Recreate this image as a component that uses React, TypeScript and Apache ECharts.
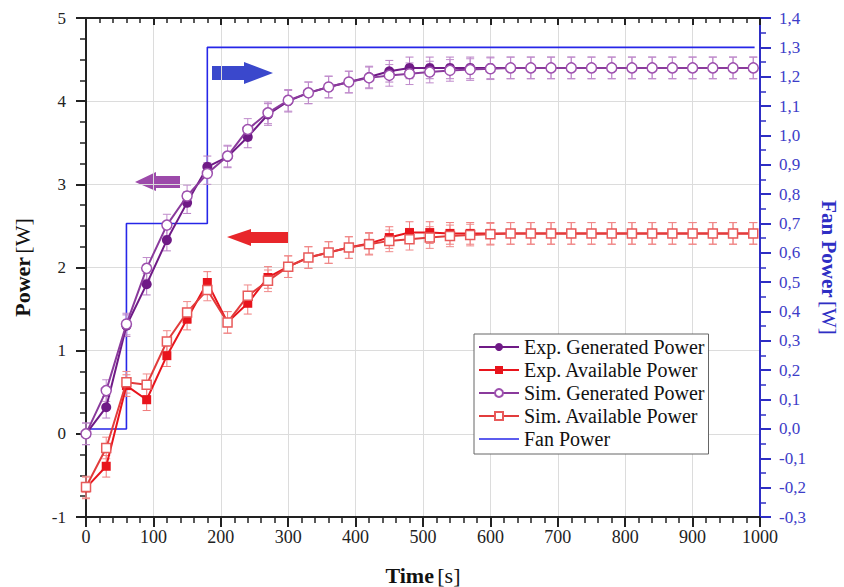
import React, { useEffect, useRef } from 'react';
import * as echarts from 'echarts';

const TIME = [0, 30, 60, 90, 120, 150, 180, 210, 240, 270, 300, 330, 360, 390, 420, 450, 480, 510, 540, 570, 600, 630, 660, 690, 720, 750, 780, 810, 840, 870, 900, 930, 960, 990];
const EXP_GEN = [0.0, 0.32, 1.30, 1.80, 2.33, 2.78, 3.21, 3.33, 3.57, 3.84, 4.00, 4.10, 4.17, 4.23, 4.29, 4.36, 4.40, 4.40, 4.40, 4.40, 4.40, 4.40, 4.40, 4.40, 4.40, 4.40, 4.40, 4.40, 4.40, 4.40, 4.40, 4.40, 4.40, 4.40];
const SIM_GEN = [0.0, 0.52, 1.32, 1.99, 2.51, 2.86, 3.13, 3.34, 3.66, 3.86, 4.01, 4.10, 4.17, 4.23, 4.28, 4.31, 4.33, 4.35, 4.37, 4.38, 4.39, 4.40, 4.40, 4.40, 4.40, 4.40, 4.40, 4.40, 4.40, 4.40, 4.40, 4.40, 4.40, 4.40];
const EXP_AVAIL = [-0.65, -0.39, 0.58, 0.41, 0.94, 1.38, 1.82, 1.34, 1.57, 1.88, 2.01, 2.12, 2.18, 2.24, 2.29, 2.36, 2.42, 2.42, 2.41, 2.41, 2.41, 2.41, 2.41, 2.41, 2.41, 2.41, 2.41, 2.41, 2.41, 2.41, 2.41, 2.41, 2.41, 2.41];
const SIM_AVAIL = [-0.64, -0.17, 0.62, 0.59, 1.11, 1.46, 1.73, 1.34, 1.66, 1.84, 2.01, 2.12, 2.18, 2.24, 2.28, 2.32, 2.34, 2.36, 2.38, 2.39, 2.40, 2.41, 2.41, 2.41, 2.41, 2.41, 2.41, 2.41, 2.41, 2.41, 2.41, 2.41, 2.41, 2.41];
const ERR = 0.13;
const FAN_TIME = [0, 60, 60, 180, 180, 992];
const FAN_POWER = [0, 0, 0.7, 0.7, 1.3, 1.3];
const LEGEND_NAMES = ['Exp. Generated Power', 'Exp. Available Power', 'Sim. Generated Power', 'Sim. Available Power', 'Fan Power'];

const SERIF = '"Liberation Serif", "Times New Roman", serif';
const BLUE_AXIS = '#2e2ec4';

const pairs = (xs: number[], ys: number[]) => xs.map((x, i) => [x, ys[i]]);
const errData = (vals: number[]) => TIME.map((t, i) => [t, vals[i] - ERR, vals[i] + ERR]);

const errSeries = (vals: number[], color: string, z: number) => ({
  type: 'custom',
  xAxisIndex: 0,
  yAxisIndex: 0,
  z,
  silent: true,
  encode: { x: 0, y: [1, 2] },
  data: errData(vals),
  renderItem: (_p: any, api: any) => {
    const a = api.coord([api.value(0), api.value(1)]);
    const b = api.coord([api.value(0), api.value(2)]);
    const w = 4;
    const st = { stroke: color, lineWidth: 1 };
    return {
      type: 'group',
      children: [
        { type: 'line', shape: { x1: a[0], y1: a[1], x2: b[0], y2: b[1] }, style: st },
        { type: 'line', shape: { x1: a[0] - w, y1: a[1], x2: a[0] + w, y2: a[1] }, style: st },
        { type: 'line', shape: { x1: b[0] - w, y1: b[1], x2: b[0] + w, y2: b[1] }, style: st },
      ],
    };
  },
});

export default function App() {
  const ref = useRef<HTMLDivElement>(null);
  useEffect(() => {
    const chart = echarts.init(ref.current!, null, { renderer: 'svg' });
    const xCommon = {
      type: 'value',
      min: 0,
      max: 1000,
      interval: 100,
    };
    chart.setOption({
      animation: false,
      backgroundColor: '#fff',
      grid: { left: 86, right: 84, top: 18, bottom: 70, containLabel: false, outerBoundsMode: 'none' },
      legend: {
        orient: 'vertical',
        left: 474,
        top: 334,
        itemWidth: 40,
        itemHeight: 10,
        itemGap: 3,
        padding: [3, 4, 5, 4],
        backgroundColor: '#fff',
        borderColor: '#666',
        borderWidth: 1,
        borderRadius: 0,
        textStyle: { fontFamily: SERIF, fontSize: 20, color: '#111' },
        data: LEGEND_NAMES.map((n) =>
          n === 'Fan Power' ? { name: n, icon: 'path://M0,0 L40,0 L40,1.6 L0,1.6 Z' } : { name: n }
        ),
      },
      xAxis: [
        {
          ...xCommon,
          position: 'bottom',
          name: '{b|Time} {r|[s]}',
          nameLocation: 'middle',
          nameGap: 47,
          nameTextStyle: {
            rich: {
              b: { fontFamily: SERIF, fontSize: 22, fontWeight: 'bold', color: '#111' },
              r: { fontFamily: SERIF, fontSize: 22, color: '#111' },
            },
          },
          axisLine: { show: true, onZero: false, lineStyle: { color: '#222', width: 2 } },
          axisTick: { show: true, inside: false, length: 10, lineStyle: { color: '#222', width: 2 } },
          minorTick: { show: true, splitNumber: 5, length: 6, lineStyle: { color: '#222', width: 1.5 } },
          axisLabel: { fontFamily: SERIF, fontSize: 18, color: '#222', margin: 11, formatter: (v: number) => String(v) },
          splitLine: { show: true, lineStyle: { color: '#dcdcdc', width: 1 } },
        },
        {
          ...xCommon,
          position: 'top',
          axisLine: { show: true, onZero: false, lineStyle: { color: '#222', width: 2 } },
          axisTick: { show: true, inside: true, length: 7, lineStyle: { color: '#222', width: 2 } },
          minorTick: { show: true, splitNumber: 5, length: 5, lineStyle: { color: '#222', width: 1.5 } },
          axisLabel: { show: false },
          splitLine: { show: false },
        },
      ],
      yAxis: [
        {
          type: 'value',
          min: -1,
          max: 5,
          interval: 1,
          position: 'left',
          name: '{b|Power} {r|[W]}',
          nameLocation: 'middle',
          nameGap: 53,
          nameTextStyle: {
            rich: {
              b: { fontFamily: SERIF, fontSize: 22, fontWeight: 'bold', color: '#111' },
              r: { fontFamily: SERIF, fontSize: 22, color: '#111' },
            },
          },
          axisLine: { show: true, onZero: false, lineStyle: { color: '#222', width: 2 } },
          axisTick: { show: true, inside: false, length: 10, lineStyle: { color: '#222', width: 2 } },
          minorTick: { show: true, splitNumber: 4, length: 6, lineStyle: { color: '#222', width: 1.5 } },
          axisLabel: { fontFamily: SERIF, fontSize: 17, color: '#222', margin: 20 },
          splitLine: { show: true, lineStyle: { color: '#dcdcdc', width: 1 } },
        },
        {
          type: 'value',
          min: -0.3,
          max: 1.4,
          interval: 0.1,
          position: 'right',
          name: '{b|Fan Power} {r|[W]}',
          nameLocation: 'middle',
          nameRotate: -90,
          nameGap: 58,
          nameTextStyle: {
            rich: {
              b: { fontFamily: SERIF, fontSize: 21, fontWeight: 'bold', color: BLUE_AXIS },
              r: { fontFamily: SERIF, fontSize: 21, color: BLUE_AXIS },
            },
          },
          axisLine: { show: true, onZero: false, lineStyle: { color: BLUE_AXIS, width: 2 } },
          axisTick: { show: true, inside: false, length: 11, lineStyle: { color: BLUE_AXIS, width: 2 } },
          minorTick: { show: true, splitNumber: 2, length: 6, lineStyle: { color: BLUE_AXIS, width: 1.5 } },
          axisLabel: {
            fontFamily: SERIF,
            fontSize: 17,
            color: '#3d3dc8',
            margin: 19,
            formatter: (v: number) => v.toFixed(1).replace('.', ','),
          },
          splitLine: { show: false },
        },
      ],
      series: [
        {
          name: 'Fan Power',
          type: 'line',
          xAxisIndex: 0,
          yAxisIndex: 1,
          z: 1,
          data: pairs(FAN_TIME, FAN_POWER),
          showSymbol: false,
          symbol: 'none',
          lineStyle: { color: '#2626e8', width: 1.6 },
          itemStyle: { color: '#2626e8' },
        },
        errSeries(EXP_GEN, '#b77cc4', 2),
        errSeries(EXP_AVAIL, '#f07a7a', 2),
        errSeries(SIM_GEN, '#c08ccc', 2),
        errSeries(SIM_AVAIL, '#f08a8a', 2),
        {
          name: 'Exp. Generated Power',
          type: 'line',
          z: 3,
          data: pairs(TIME, EXP_GEN),
          symbol: 'circle',
          symbolSize: 10,
          lineStyle: { color: '#6f1a86', width: 2 },
          itemStyle: { color: '#6f1a86' },
        },
        {
          name: 'Exp. Available Power',
          type: 'line',
          z: 3,
          data: pairs(TIME, EXP_AVAIL),
          symbol: 'rect',
          symbolSize: 9,
          lineStyle: { color: '#e8141c', width: 2 },
          itemStyle: { color: '#e8141c' },
        },
        {
          name: 'Sim. Generated Power',
          type: 'line',
          z: 4,
          data: pairs(TIME, SIM_GEN),
          symbol: 'circle',
          symbolSize: 10,
          lineStyle: { color: '#8a3a9c', width: 2 },
          itemStyle: { color: '#ffffff', borderColor: '#9d50ae', borderWidth: 1.5 },
        },
        {
          name: 'Sim. Available Power',
          type: 'line',
          z: 4,
          data: pairs(TIME, SIM_AVAIL),
          symbol: 'rect',
          symbolSize: 9,
          lineStyle: { color: '#e23c3c', width: 2 },
          itemStyle: { color: '#ffffff', borderColor: '#e85a5a', borderWidth: 1.5 },
        },
      ],
      graphic: [
        {
          type: 'group',
          z: 10,
          children: [
            {
              type: 'polygon',
              shape: { points: [[212, 66], [244, 66], [244, 62], [273, 73], [244, 84], [244, 80], [212, 80]] },
              style: { fill: '#3a48cc' },
            },
            {
              type: 'polygon',
              shape: { points: [[180, 176], [156, 176], [156, 172], [135, 182], [156, 191], [156, 188], [180, 188]] },
              style: { fill: '#9c4aaa' },
            },
            {
              type: 'polygon',
              shape: { points: [[288, 232], [251, 232], [251, 229], [227, 237], [251, 246], [251, 243], [288, 243]] },
              style: { fill: '#e8262a' },
            },
          ],
        },
      ],
    });
    return () => chart.dispose();
  }, []);
  return <div ref={ref} style={{ width: 844, height: 587, position: 'absolute', left: 0, top: 0 }} />;
}
